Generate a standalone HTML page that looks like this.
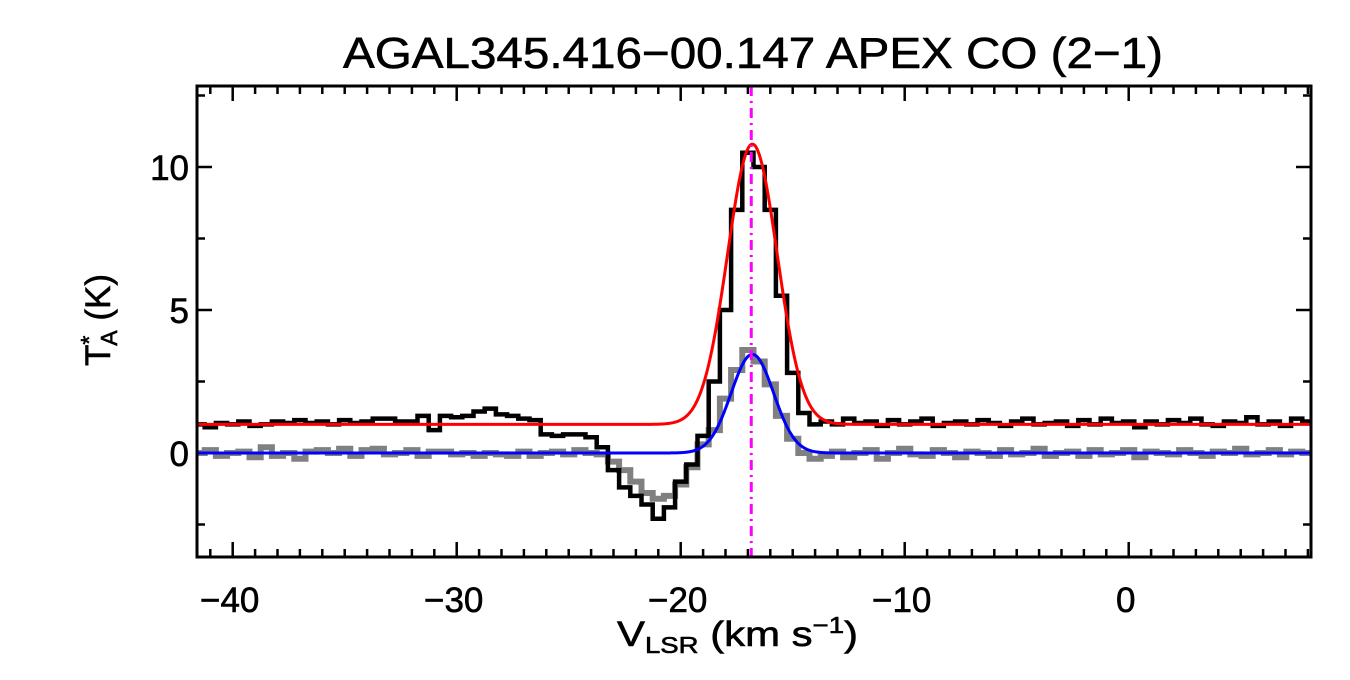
<!DOCTYPE html>
<html><head><meta charset="utf-8"><style>
body{margin:0;background:#fff;}
svg text{font-family:"Liberation Sans",sans-serif;fill:#000;stroke:#000;stroke-width:0.6;}
</style></head><body>
<svg id="chart" width="1350" height="675">
<text x="343" y="68" font-size="44" textLength="820" lengthAdjust="spacingAndGlyphs">AGAL345.416−00.147  APEX CO (2−1)</text>
<g id="ticks"></g>
<g id="marks"></g>
<rect x="197" y="86" width="1114" height="471" fill="none" stroke="#000" stroke-width="3"/>
<text x="617" y="646" font-size="35" textLength="241" lengthAdjust="spacingAndGlyphs">V<tspan font-size="23" dy="7">LSR</tspan><tspan dy="-7"> (km s</tspan><tspan font-size="23" dy="-13">−1</tspan><tspan dy="13">)</tspan></text>
<text transform="translate(110,320) rotate(-90)" font-size="35" text-anchor="middle">T<tspan font-size="23" dy="-13">*</tspan><tspan font-size="23" dx="-10" dy="20">A</tspan><tspan dy="-7"> (K)</tspan></text>
</svg>
<script>
const xTicks=[-40,-30,-20,-10,0];
const yTicks=[0,5,10];
const vStart=-42, dv=0.5;
const black=[1.1,1.0,0.9,1.05,1.0,1.1,0.95,1.0,1.1,1.05,1.15,1.05,1.1,1.0,1.15,1.05,1.1,1.2,1.2,1.1,1.1,1.3,0.8,1.3,1.25,1.3,1.45,1.55,1.35,1.3,1.2,1.15,
0.65,0.6,0.65,0.65,0.55,0.2,-0.6,-1.2,-1.5,-1.8,-2.3,-1.9,-1.0,-0.4,0.6,2.5,5.0,8.5,10.5,10.0,8.5,5.5,2.8,1.4,1.0,
1.1,1.0,1.2,1.05,1.1,0.95,1.15,1.0,1.1,1.2,0.95,1.05,1.1,1.0,1.15,1.05,0.95,1.1,1.2,1.0,1.05,1.1,0.95,1.15,1.0,1.2,1.05,1.1,0.9,1.1,1.0,1.15,1.05,1.2,1.0,0.95,1.1,1.05,1.25,1.0,1.1,0.95,1.2,1.1];
const gray=[-0.1,0.0,0.1,-0.1,0.0,0.05,-0.15,0.2,-0.1,0.0,-0.2,0.05,0.1,0.0,0.15,-0.1,0.1,0.15,-0.05,0.0,0.1,-0.1,0.05,0.05,-0.05,0.0,-0.1,0.0,-0.05,-0.1,0.05,-0.1,0.0,0.05,-0.05,0.1,0.0,-0.05,
-0.3,-0.6,-1.0,-1.4,-1.6,-1.5,-1.1,-0.5,0.3,0.8,1.9,2.9,3.6,3.2,2.4,1.3,0.5,0.0,-0.2,
-0.1,0.05,-0.15,0.0,0.1,-0.2,0.0,0.15,-0.05,-0.1,0.1,0.0,-0.15,0.05,0.0,-0.1,0.1,-0.05,0.0,0.15,-0.1,0.0,0.05,-0.1,0.1,-0.05,0.0,0.1,-0.15,0.05,0.0,-0.05,0.1,0.0,-0.1,0.05,0.0,0.15,-0.05,0.0,0.1,-0.05,0.05,0.0];
const redFit=[1.0,9.8,-16.8,1.11];
const blueFit=[0.0,3.45,-16.8,0.95];
const vMark=[-16.85];
const X=v=>1128.7+22.4*v, Y=t=>453-28.6*t;
const NS='http://www.w3.org/2000/svg';
function mk(tag,attrs,parent){const e=document.createElementNS(NS,tag);for(const k in attrs)e.setAttribute(k,attrs[k]);parent.appendChild(e);return e;}
const tg=document.getElementById('ticks'), mg=document.getElementById('marks');
for(let v=-41;v<=8;v++){const big=v%10===0,L=big?15:8;
 const t1=mk('line',{x1:X(v),x2:X(v),y1:557,y2:557-L,stroke:'#000','stroke-width':2.5},tg);
 
 const t2=mk('line',{x1:X(v),x2:X(v),y1:86,y2:86+L,stroke:'#000','stroke-width':2.5},tg);
 }
xTicks.forEach(v=>{const t=mk('text',{x:X(v)-3,y:612,'font-size':35,'text-anchor':'middle'},tg);t.textContent=(v<0?'−':'')+Math.abs(v);
 });
for(let t=-2.5;t<=12.5;t+=2.5){const big=t%5===0,L=big?15:8;
 const a=mk('line',{x1:197,x2:197+L,y1:Y(t),y2:Y(t),stroke:'#000','stroke-width':2.5},tg);
 
 const b=mk('line',{x1:1311,x2:1311-L,y1:Y(t),y2:Y(t),stroke:'#000','stroke-width':2.5},tg);
 }
yTicks.forEach(v=>{const t=mk('text',{x:189,y:Y(v)+13,'font-size':35,'text-anchor':'end'},tg);t.textContent=v;
 });
function hist(arr){let d='';arr.forEach((t,i)=>{const c=vStart+i*dv,x0=Math.max(X(c-dv/2),198),x1=Math.min(X(c+dv/2),1310);
 d+=(i===0?'M':'L')+x0+','+Y(t)+'L'+x1+','+Y(t);});return d;}
const clip=mk('clipPath',{id:'pc'},mg);mk('rect',{x:197,y:86,width:1114,height:471},clip);
const g=mk('g',{'clip-path':'url(#pc)'},mg);
const gp=mk('path',{d:hist(gray),fill:'none',stroke:'#808080','stroke-width':6},g);

const bp=mk('path',{d:hist(black),fill:'none',stroke:'#000','stroke-width':4.5},g);

function gauss(p){let d='';for(let x=197;x<=1311;x+=1){const v=(x-1128.7)/22.4;const t=p[0]+p[1]*Math.exp(-Math.pow(v-p[2],2)/(2*p[3]*p[3]));d+=(x===197?'M':'L')+x+','+Y(t);}return d;}
const rp=mk('path',{d:gauss(redFit),fill:'none',stroke:'#ff0000','stroke-width':3},g);

const blp=mk('path',{d:gauss(blueFit),fill:'none',stroke:'#0000ff','stroke-width':3},g);

const ml=mk('line',{x1:X(vMark[0]),x2:X(vMark[0]),y1:86,y2:557,stroke:'#ff00ff','stroke-width':3,'stroke-dasharray':'10,5,2,5'},g);

</script>
</body></html>
